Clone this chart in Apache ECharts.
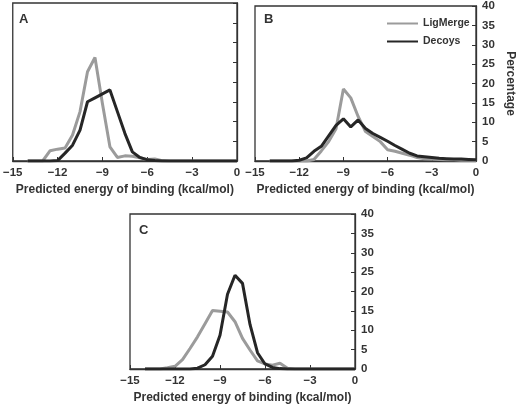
<!DOCTYPE html>
<html>
<head>
<meta charset="utf-8">
<script src="https://cdn.jsdelivr.net/npm/echarts@6/dist/echarts.min.js"></script>
<style>html,body{margin:0;padding:0;background:#fff}#c{width:517px;height:405px}</style>
</head>
<body>
<div id="c"></div>
<script>
var energies = [-14, -13.5, -13, -12.5, -12, -11.5, -11, -10.5, -10, -9.5, -9, -8.5, -8, -7.5, -7, -6.5, -6, -5.5, -5, -4.5, -4, -3.5, -3, -2.5, -2, -1.5, -1, -0.5, 0];
var xTicks = [-15, -12, -9, -6, -3, 0];
var yTicks = [0, 5, 10, 15, 20, 25, 30, 35, 40];
var seriesNames = ['LigMerge', 'Decoys'];
var panelLabels = ['A', 'B', 'C'];

var ligMergeA = [0, 0, 0, 2.6, 3.0, 3.3, 6.6, 12.5, 22.6, 26.2, 14.5, 3.6, 0.9, 1.3, 1.2, 0.8, 0.4, 0.5, 0.1, 0, 0, 0, 0, 0, 0, 0, 0, 0, 0];
var decoysA   = [0, 0, 0, 0, 0.1, 2.0, 4.0, 7.8, 15.0, 16.0, 17.0, 18.0, 12.5, 7.0, 2.3, 0.9, 0.3, 0.1, 0, 0, 0, 0, 0, 0, 0, 0, 0, 0, 0];
var ligMergeB = [0, 0, 0, 0, 0, 0, 0.4, 2.6, 5.0, 8.3, 18.6, 16.3, 11.5, 7.6, 6.3, 5.0, 2.9, 2.5, 2.0, 1.5, 0.9, 0.6, 0.5, 0.4, 0.3, 0.3, 0.2, 0.2, 0.1];
var decoysB   = [0, 0, 0, 0, 0.2, 0.8, 2.5, 3.8, 6.5, 9.2, 10.9, 8.8, 10.6, 8.4, 7.1, 6.1, 5.1, 4.0, 3.0, 2.0, 1.3, 1.1, 0.9, 0.7, 0.6, 0.5, 0.5, 0.4, 0.3];
var ligMergeC = [0, 0, 0, 0.3, 0.7, 2.4, 5.3, 8.3, 11.7, 15.1, 14.9, 14.7, 12.2, 7.9, 4.9, 2.1, 1.3, 1.0, 1.5, 0.2, 0, 0, 0, 0, 0, 0, 0, 0, 0];
var decoysC   = [0, 0, 0, 0, 0, 0, 0, 0.2, 1.1, 3.3, 8.7, 19.3, 24.2, 22.1, 11.5, 4.2, 1.3, 0.4, 0.1, 0, 0, 0, 0, 0, 0, 0, 0, 0, 0];

var xTitle = 'Predicted energy of binding (kcal/mol)';
var yTitle = 'Percentage';

var FONT = 'Liberation Sans, Arial, sans-serif';
var TXT = '#333';
var GRAY = '#9b9b9b';
var DARK = '#262626';

function pairs(vals) { return energies.map(function (x, i) { return [x, vals[i]]; }); }

var grids = [
  {left: 10, top: 3, width: 227, height: 158},
  {left: 255, top: 3, width: 223, height: 158},
  {left: 130, top: 214, width: 225, height: 157}
];
var panels = [[ligMergeA, decoysA], [ligMergeB, decoysB], [ligMergeC, decoysC]];
var showYLabels = [false, true, true];

var option = {
  animation: false,
  backgroundColor: '#fff',
  textStyle: {fontFamily: FONT},
  title: panelLabels.map(function (t, i) {
    return {text: t, left: grids[i].left + 4, top: grids[i].top + 5,
      textStyle: {fontFamily: FONT, fontSize: 13, fontWeight: 'bold', color: TXT}};
  }),
  legend: {
    data: seriesNames, orient: 'vertical', left: 381, top: 13, itemWidth: 31, itemHeight: 12, itemGap: 7,
    textStyle: {fontFamily: FONT, fontSize: 10.5, fontWeight: 'bold', color: TXT}, itemStyle: {opacity: 0}
  },
  grid: grids.map(function (g) {
    return {left: g.left, top: g.top, width: g.width, height: g.height, show: true,
      borderColor: '#333', borderWidth: 1.3, backgroundColor: 'transparent', containLabel: false};
  }),
  xAxis: grids.map(function (g, i) {
    return {type: 'value', gridIndex: i, min: xTicks[0], max: xTicks[xTicks.length - 1], interval: 3,
      name: xTitle, nameLocation: 'middle', nameGap: 23,
      nameTextStyle: {fontFamily: FONT, fontSize: 12, fontWeight: 'bold', color: TXT},
      axisLine: {show: true, lineStyle: {color: '#333', width: 1.3}},
      axisTick: {show: true, inside: true, length: 4, lineStyle: {color: '#333'}},
      axisLabel: {margin: 6, fontFamily: FONT, fontSize: 11.5, fontWeight: 'bold', color: TXT,
        formatter: function (v) { return String(v).replace('-', '\u2212'); }},
      splitLine: {show: false}};
  }),
  yAxis: grids.map(function (g, i) {
    return {type: 'value', gridIndex: i, position: 'right', min: yTicks[0], max: yTicks[yTicks.length - 1], interval: 5,
      name: i === 1 ? yTitle : '', nameLocation: 'middle', nameGap: 28, nameRotate: -90,
      nameTextStyle: {fontFamily: FONT, fontSize: 12, fontWeight: 'bold', color: TXT},
      axisLine: {show: true, lineStyle: {color: '#333', width: 1.3}},
      axisTick: {show: true, inside: true, length: 4, lineStyle: {color: '#333'}},
      axisLabel: {show: showYLabels[i], margin: 6, fontFamily: FONT, fontSize: 11.5, fontWeight: 'bold', color: TXT},
      splitLine: {show: false}};
  }),
  series: []
};

panels.forEach(function (p, i) {
  option.series.push({name: seriesNames[0], type: 'line', xAxisIndex: i, yAxisIndex: i, symbol: 'none',
    data: pairs(p[0]), lineStyle: {color: GRAY, width: 3}, itemStyle: {color: GRAY}, z: 2});
  option.series.push({name: seriesNames[1], type: 'line', xAxisIndex: i, yAxisIndex: i, symbol: 'none',
    data: pairs(p[1]), lineStyle: {color: DARK, width: 3}, itemStyle: {color: DARK}, z: 3});
});

var chart = echarts.init(document.getElementById('c'), null, {renderer: 'canvas'});
chart.setOption(option);
</script>
</body>
</html>
